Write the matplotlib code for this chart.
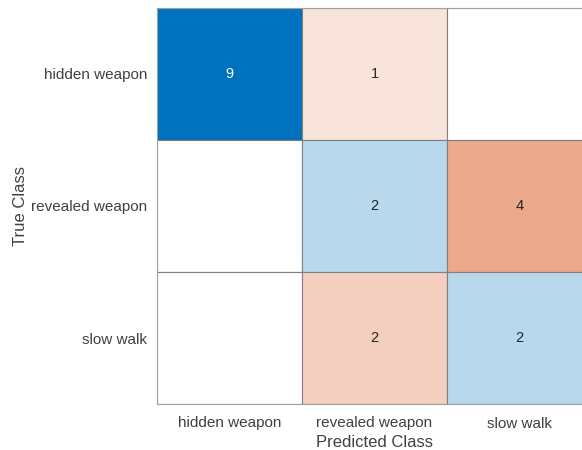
import numpy as np
import matplotlib
matplotlib.use("Agg")
import matplotlib.pyplot as plt

classes = ["hidden weapon", "revealed weapon", "slow walk"]
counts = np.array([
    [9, 1, 0],
    [0, 2, 4],
    [0, 2, 2],
])

plt.rcParams["font.family"] = ["Liberation Sans", "DejaVu Sans"]

diag_rgb = np.array([0, 114, 189]) / 255.0
off_rgb = np.array([217, 83, 25]) / 255.0
white = np.ones(3)
vmax = counts.max()

fig = plt.figure(figsize=(5.82, 4.5), dpi=100)
ax = fig.add_axes([157 / 582, 1 - 404 / 450, 435 / 582, 396 / 450])

n = len(classes)
for i in range(n):
    for j in range(n):
        v = counts[i, j]
        t = (v / vmax) ** 0.85
        base = diag_rgb if i == j else off_rgb
        col = white * (1 - t) + base * t
        ax.add_patch(plt.Rectangle((j, i), 1, 1, facecolor=col,
                                   edgecolor="#7f7f7f", linewidth=0.8))
        if v > 0:
            tc = "white" if t > 0.5 and i == j else "#262626"
            ax.text(j + 0.5, i + 0.5, str(v), ha="center", va="center",
                    fontsize=10.5, color=tc)

ax.set_xlim(0, n)
ax.set_ylim(n, 0)
ax.set_xticks(np.arange(n) + 0.5)
ax.set_yticks(np.arange(n) + 0.5)
ax.set_xticklabels(classes, fontsize=11, color="#404040")
ax.set_yticklabels(classes, fontsize=11, color="#404040")
ax.tick_params(axis="x", length=0, pad=9)
ax.tick_params(axis="y", length=0, pad=7)
for s in ax.spines.values():
    s.set_color("#a0a0a0")
    s.set_linewidth(0.8)
ax.set_xlabel("Predicted Class", fontsize=12, color="#404040", labelpad=3)
ax.set_ylabel("True Class", fontsize=12, color="#404040", labelpad=2)

fig.savefig("out.png", dpi=100)
